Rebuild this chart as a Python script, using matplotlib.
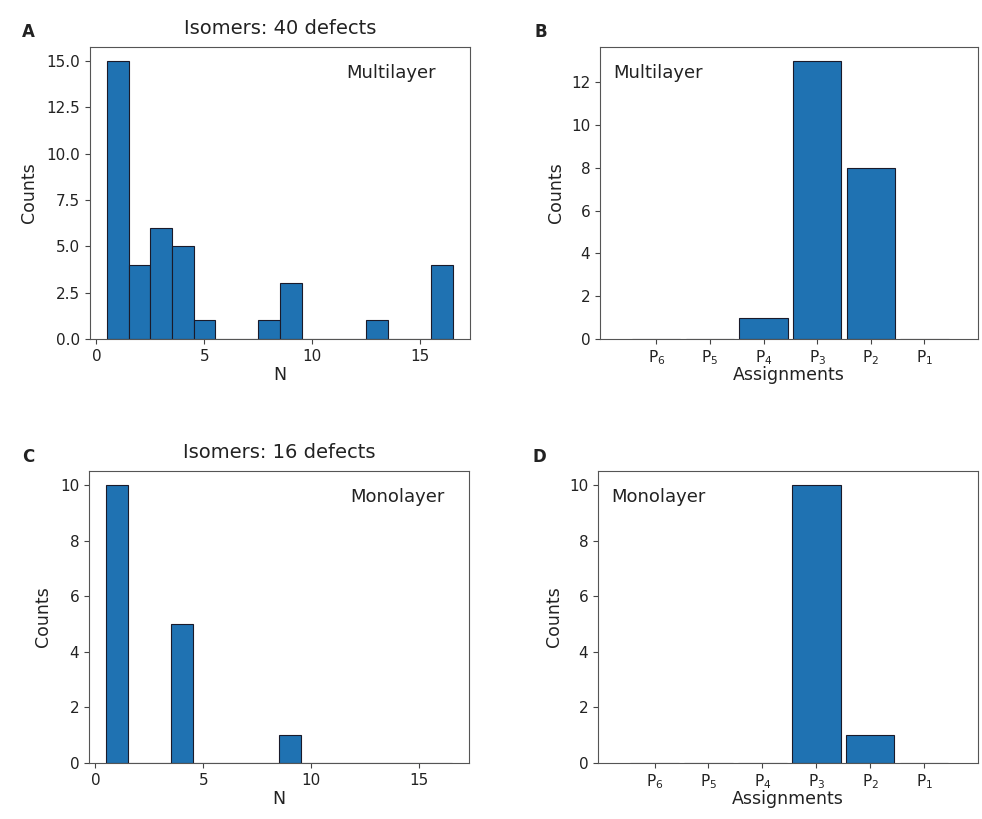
import numpy as np
import matplotlib.pyplot as plt

plt.rcParams['font.family'] = ['DejaVu Sans']
plt.rcParams['mathtext.default'] = 'regular'
plt.rcParams['text.color'] = '#222222'
plt.rcParams['axes.labelcolor'] = '#222222'
plt.rcParams['xtick.color'] = '#444444'
plt.rcParams['ytick.color'] = '#444444'
plt.rcParams['xtick.labelcolor'] = '#222222'
plt.rcParams['ytick.labelcolor'] = '#222222'
plt.rcParams['axes.edgecolor'] = '#555555'

# isomer size histograms (count per N)
n_values = np.arange(1, 17)
multi_counts = [15, 4, 6, 5, 1, 0, 0, 1, 3, 0, 0, 0, 1, 0, 0, 4]
mono_counts = [10, 0, 0, 5, 0, 0, 0, 0, 1, 0, 0, 0, 0, 0, 0, 0]

# assignments
assign_labels = ['$P_6$', '$P_5$', '$P_4$', '$P_3$', '$P_2$', '$P_1$']
multi_assign = [0, 0, 1, 13, 8, 0]
mono_assign = [0, 0, 0, 10, 1, 0]

bar_color = '#1f72b2'
edge_color = '#1a1a2a'

tick_fs = 11
label_fs = 12.5
note_fs = 13
title_fs = 14

fig = plt.figure(figsize=(9.82, 8.19), dpi=100)

axA = fig.add_axes([90/982, 1 - 339/819, 380/982, 292/819])
axB = fig.add_axes([600/982, 1 - 339/819, 378/982, 292/819])
axC = fig.add_axes([89/982, 1 - 763/819, 380/982, 292/819])
axD = fig.add_axes([598/982, 1 - 763/819, 380/982, 292/819])


def hist_panel(ax, counts, title, label, note_x):
    ax.bar(n_values, counts, width=1.0, color=bar_color, edgecolor=edge_color, linewidth=0.8)
    ax.set_title(title, fontsize=title_fs, pad=9)
    ax.set_xlabel('N', fontsize=label_fs, labelpad=2)
    ax.set_ylabel('Counts', fontsize=label_fs, labelpad=6)
    ax.set_xticks([0, 5, 10, 15])
    ax.tick_params(labelsize=tick_fs)
    ax.text(note_x, 0.91, label, transform=ax.transAxes, ha='right', va='center', fontsize=note_fs)


def assign_panel(ax, counts, label):
    x = np.arange(len(assign_labels))
    ax.bar(x, counts, width=0.9, color=bar_color, edgecolor=edge_color, linewidth=0.8)
    ax.set_xticks(x)
    ax.set_xticklabels(assign_labels)
    ax.set_xlim(-1.05, 6.0)
    ax.set_xlabel('Assignments', fontsize=label_fs, labelpad=-1)
    ax.set_ylabel('Counts', fontsize=label_fs)
    ax.tick_params(labelsize=tick_fs)
    ax.text(0.035, 0.91, label, transform=ax.transAxes, ha='left', va='center', fontsize=note_fs)


hist_panel(axA, multi_counts, 'Isomers: 40 defects', 'Multilayer', 0.91)
assign_panel(axB, multi_assign, 'Multilayer')
hist_panel(axC, mono_counts, 'Isomers: 16 defects', 'Monolayer', 0.935)
assign_panel(axD, mono_assign, 'Monolayer')

axA.set_yticks([0, 2.5, 5, 7.5, 10, 12.5, 15])
axA.set_yticklabels(['0.0', '2.5', '5.0', '7.5', '10.0', '12.5', '15.0'])
axB.set_yticks([0, 2, 4, 6, 8, 10, 12])
axC.set_yticks([0, 2, 4, 6, 8, 10])
axD.set_yticks([0, 2, 4, 6, 8, 10])

for letter, x, y in [('A', 22, 37), ('B', 535, 37), ('C', 22, 462), ('D', 533, 462)]:
    fig.text(x/982, 1 - y/819, letter, fontsize=12, fontweight='bold', ha='left', va='baseline')

fig.savefig('out.png', dpi=100)
